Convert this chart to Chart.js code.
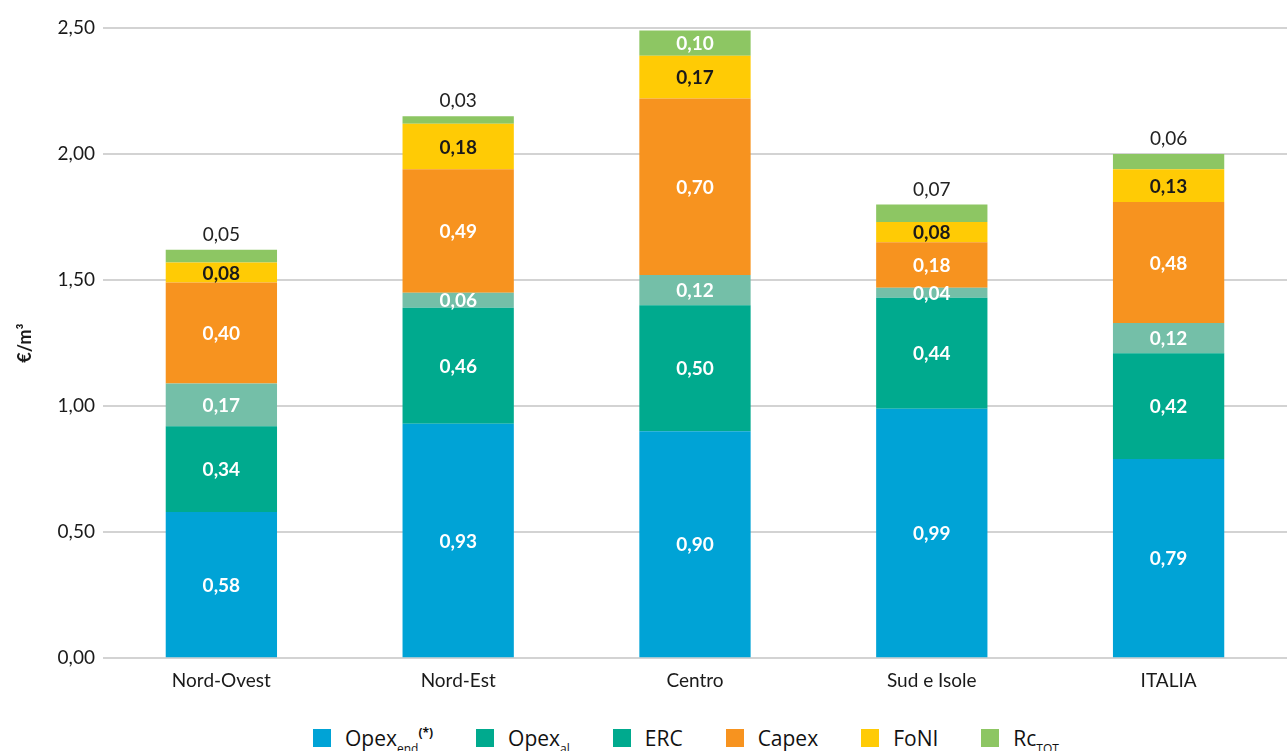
<!DOCTYPE html>
<html>
<head>
<meta charset="utf-8">
<script src="https://cdn.jsdelivr.net/npm/chart.js@4.4.0/dist/chart.umd.min.js"></script>
<style>
  html, body { margin: 0; padding: 0; background: #fff; }
  #wrap { position: relative; width: 1287px; height: 751px; }
  #chart { position: absolute; left: 0; top: 0; }
  #legend {
    position: absolute; left: 313px; top: 726px;
    display: flex; align-items: center;
    font-family: "Open Sans", "Lato", sans-serif; font-size: 21px; color: #111;
  }
  #legend .item { display: flex; align-items: center; margin-right: 43px; }
  #legend .box { width: 18px; height: 18px; margin-right: 14px; flex: none; }
  #legend .txt { white-space: nowrap; line-height: 24px; }
  #legend sub, #legend sup { font-size: 12px; line-height: 0; }
  #legend sub { vertical-align: -7px; }
  #legend sup { vertical-align: 9px; font-weight: bold; }
</style>
</head>
<body>
<div id="wrap">
  <canvas id="chart" width="1287" height="695"></canvas>
  <div id="legend">
    <div class="item"><span class="box" style="background:#00a3d6"></span><span class="txt">Opex<sub>end</sub><sup>(*)</sup></span></div>
    <div class="item"><span class="box" style="background:#00aa8e"></span><span class="txt">Opex<sub>al</sub></span></div>
    <div class="item"><span class="box" style="background:#00aa8e"></span><span class="txt">ERC</span></div>
    <div class="item"><span class="box" style="background:#f7931f"></span><span class="txt">Capex</span></div>
    <div class="item"><span class="box" style="background:#ffcb05"></span><span class="txt">FoNI</span></div>
    <div class="item"><span class="box" style="background:#8dc663"></span><span class="txt">Rc<sub>TOT</sub></span></div>
  </div>
</div>
<script>
var categories = ["Nord-Ovest", "Nord-Est", "Centro", "Sud e Isole", "ITALIA"];
var opexEnd = [0.58, 0.93, 0.90, 0.99, 0.79];
var opexAl  = [0.34, 0.46, 0.50, 0.44, 0.42];
var erc     = [0.17, 0.06, 0.12, 0.04, 0.12];
var capex   = [0.40, 0.49, 0.70, 0.18, 0.48];
var foni    = [0.08, 0.18, 0.17, 0.08, 0.13];
var rcTot   = [0.05, 0.03, 0.10, 0.07, 0.06];
var yTicks  = [0, 0.5, 1, 1.5, 2, 2.5];

var FONT = "Lato, 'Open Sans', sans-serif";

function fmt(v) { return v.toFixed(2).replace('.', ','); }

var valueLabels = {
    id: 'valueLabels',
    afterDatasetsDraw: function (chart) {
        var ctx = chart.ctx;
        ctx.save();
        ctx.textAlign = 'center';
        ctx.textBaseline = 'middle';
        chart.data.datasets.forEach(function (ds, di) {
            var meta = chart.getDatasetMeta(di);
            meta.data.forEach(function (bar, i) {
                var v = ds.data[i];
                var mid = (bar.y + bar.base) / 2;
                if (di === 5 && v < 0.1) {
                    ctx.font = "19px " + FONT;
                    ctx.fillStyle = '#222';
                    ctx.fillText(fmt(v), bar.x, bar.y - 15);
                } else if (di === 4) {
                    ctx.font = "bold 19px " + FONT;
                    ctx.fillStyle = '#1a1a1a';
                    ctx.fillText(fmt(v), bar.x, mid + 1);
                } else {
                    ctx.font = "bold 19px " + FONT;
                    ctx.fillStyle = '#ffffff';
                    ctx.fillText(fmt(v), bar.x, mid + 1);
                }
            });
        });
        ctx.restore();
    }
};

var barData = {
    labels: categories,
    datasets: [
        { label: "Opex end (*)", data: opexEnd, backgroundColor: '#00a3d6' },
        { label: "Opex al", data: opexAl, backgroundColor: '#00aa8e' },
        { label: "ERC", data: erc, backgroundColor: '#74bfa8' },
        { label: "Capex", data: capex, backgroundColor: '#f7931f' },
        { label: "FoNI", data: foni, backgroundColor: '#ffcb05' },
        { label: "Rc TOT", data: rcTot, backgroundColor: '#8dc663' }
    ]
};

var barOptions = {
    responsive: false,
    animation: false,
    layout: { padding: { top: 28, right: 0, left: 10, bottom: 0 } },
    datasets: { bar: { barPercentage: 0.47, categoryPercentage: 1.0 } },
    plugins: { legend: { display: false }, tooltip: { enabled: false } },
    scales: {
        x: {
            stacked: true,
            grid: { display: false },
            border: { display: false },
            ticks: { color: '#1a1a1a', font: { family: FONT, size: 19 }, padding: 3 }
        },
        y: {
            stacked: true,
            min: 0,
            max: 2.5,
            afterBuildTicks: function (axis) {
                axis.ticks = yTicks.map(function (v) { return { value: v }; });
            },
            grid: { color: '#d3d3d3', lineWidth: 2, drawTicks: false },
            border: { display: false },
            ticks: {
                color: '#1a1a1a',
                font: { family: FONT, size: 19 },
                padding: 8,
                callback: function (v) { return fmt(v); }
            },
            title: {
                display: true,
                text: '€/m³',
                color: '#1a1a1a',
                font: { family: FONT, size: 18, weight: 'bold' },
                padding: { bottom: 14 }
            }
        }
    }
};

var ctx = document.getElementById("chart").getContext("2d");
new Chart(ctx, { type: 'bar', data: barData, options: barOptions, plugins: [valueLabels] });
</script>
</body>
</html>
